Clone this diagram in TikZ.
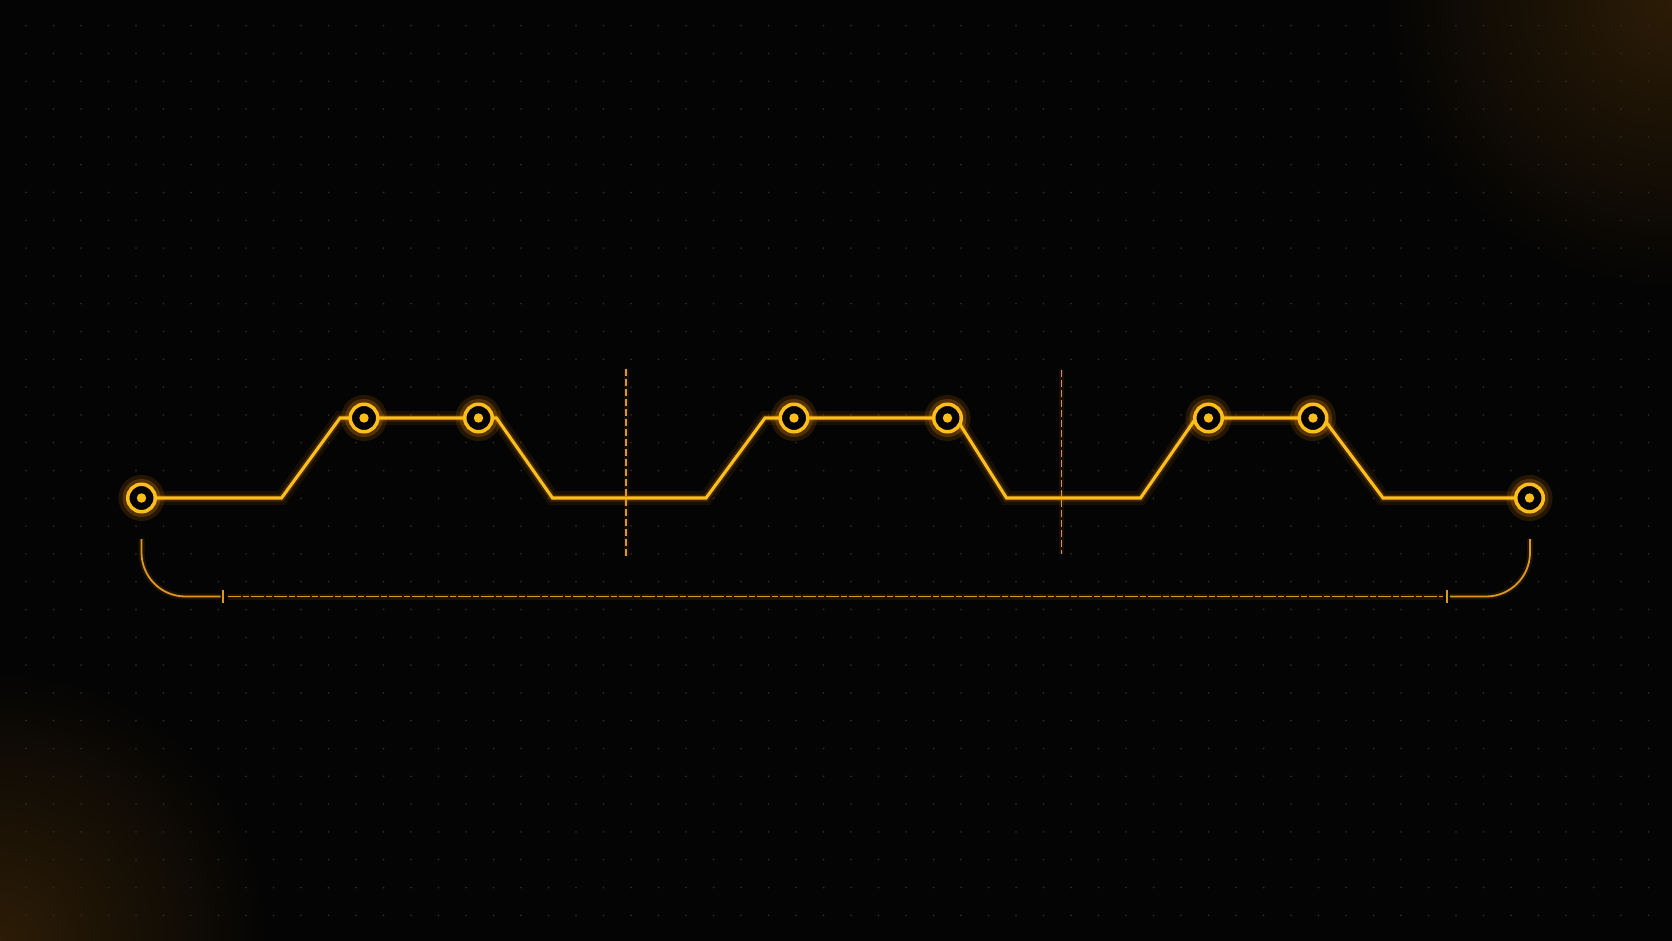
\documentclass[tikz,border=0pt]{standalone}
\usetikzlibrary{calc}
\definecolor{bgc}{RGB}{4,4,4}
\definecolor{amber}{RGB}{255,190,26}
\definecolor{halo}{RGB}{255,150,0}
\definecolor{dimamber}{RGB}{222,152,30}
\definecolor{griddot}{RGB}{44,42,37}
\definecolor{cornerglow}{RGB}{44,28,6}
\pgfdeclarelayer{back}
\pgfdeclarelayer{glowlayer}
\pgfsetlayers{back,glowlayer,main}
\tikzset{
  hub/.style={circle, draw=amber, line width=3.5pt, fill=bgc, minimum size=27.5pt, inner sep=0pt,
    path picture={\fill[amber] (path picture bounding box.center) circle (4.7pt);}},
  hubglow/.style={draw=halo, line width=16pt, draw opacity=0.13},
  hubglowtwo/.style={draw=halo, line width=8pt, draw opacity=0.22},
  trace/.style={draw=amber, line width=3.1pt, line join=miter,
    preaction={draw=halo, line width=14pt, draw opacity=0.08},
    preaction={draw=halo, line width=7pt, draw opacity=0.18}},
  vguide/.style={draw=dimamber, line width=1.5pt, dash pattern=on 7pt off 3pt,
    preaction={draw=halo, line width=5pt, draw opacity=0.08, solid}},
  bracketline/.style={draw=dimamber, line width=1.8pt,
    preaction={draw=halo, line width=6pt, draw opacity=0.10}},
  bracketdash/.style={draw=dimamber, line width=1.8pt, dash pattern=on 13pt off 2pt on 6pt off 2pt,
    preaction={draw=halo, line width=6pt, draw opacity=0.10, solid}},
  tickmark/.style={draw=dimamber, line width=2pt}
}
\begin{document}
\begin{tikzpicture}[x=1pt,y=-1pt]
\useasboundingbox (0,0) rectangle (1672,941);
\begin{pgfonlayer}{back}
  \fill[bgc] (0,0) rectangle (1672,941);
  \begin{scope}
    \clip (0,0) rectangle (1672,941);
    \shade[inner color=cornerglow, outer color=bgc] (1672,0) circle (290pt);
    \shade[inner color=cornerglow, outer color=bgc] (0,941) circle (270pt);
  \end{scope}
  \foreach \i in {0,...,60} {
    \foreach \j in {0,...,33} {
      \fill[griddot] ({26+27.5*\i},{25.7+27.8*\j}) circle (1pt);
    }
  }
\end{pgfonlayer}

% hubs
\node[hub] (n1) at (141.5,498) {};
\node[hub] (n2) at (364,418) {};
\node[hub] (n3) at (478.5,418) {};
\node[hub] (n4) at (794,418) {};
\node[hub] (n5) at (947.5,418) {};
\node[hub] (n6) at (1208.5,418) {};
\node[hub] (n7) at (1313,418) {};
\node[hub] (n8) at (1529.5,498) {};

% corners of the trace
\coordinate (c1) at (281.5,498);
\coordinate (c2) at (340,418);
\coordinate (c3) at (496.5,418);
\coordinate (c4) at (552.5,498);
\coordinate (c5) at (706,498);
\coordinate (c6) at (765,418);
\coordinate (c7) at (956,418);
\coordinate (c8) at (1006.5,498);
\coordinate (c9) at (1140.5,498);
\coordinate (c10) at (1196,418);
\coordinate (c11) at (1323,418);
\coordinate (c12) at (1383,498);

\begin{pgfonlayer}{glowlayer}
  \foreach \n in {n1,n2,n3,n4,n5,n6,n7,n8} {
    \draw[hubglow] (\n.center) circle (15pt);
    \draw[hubglowtwo] (\n.center) circle (15pt);
  }
  \path[trace] (n1.center) -- (c1) -- (c2) -- (n2.center) -- (n3.center) -- (c3) -- (c4)
    -- (c5) -- (c6) -- (n4.center) -- (n5.center) -- (c7) -- (c8)
    -- (c9) -- (c10) -- (n6.center) -- (n7.center) -- (c11) -- (c12) -- (n8.center);
\end{pgfonlayer}

% vertical guides
\coordinate (g1t) at (626,369);
\coordinate (g1b) at (626,556);
\coordinate (g2t) at (1061.5,370);
\coordinate (g2b) at (1061.5,554);
\path[vguide] (g1t) -- (g1b);
\path[vguide] (g2t) -- (g2b);

% bracket
\coordinate (bl) at (141.5,539);
\coordinate (br) at (1530,539);
\coordinate (tl) at (222.5,596.5);
\coordinate (tr) at (1446.5,596.5);
\path[bracketline] (bl) -- (141.5,552.5) .. controls (141.5,576.8) and (161.2,596.5) .. (185.5,596.5) -- (220.5,596.5);
\path[bracketdash] (228,596.5) -- (1443,596.5);
\path[bracketline] (1450,596.5) -- (1486,596.5) .. controls (1510.3,596.5) and (1530,576.8) .. (1530,552.5) -- (br);
\path[tickmark] ($(tl)+(0,-6.5)$) -- ($(tl)+(0,6)$);
\path[tickmark] ($(tr)+(0,-6.5)$) -- ($(tr)+(0,6)$);
\end{tikzpicture}
\end{document}
